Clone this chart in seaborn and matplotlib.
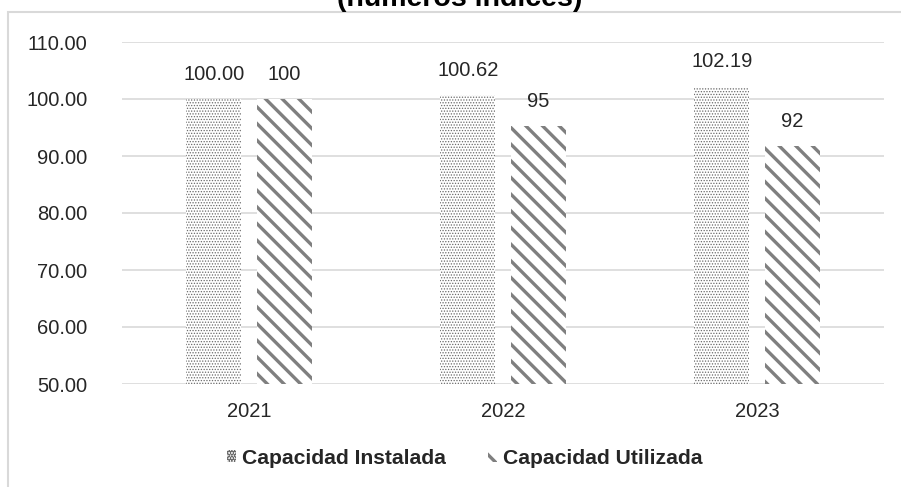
import pandas as pd
import numpy as np
import matplotlib
matplotlib.use('Agg')
import matplotlib.pyplot as plt
from matplotlib.patches import Rectangle
import seaborn as sns

# datos (números índices, base 2021 = 100)
anios = ['2021', '2022', '2023']
series = ['Capacidad Instalada', 'Capacidad Utilizada']
instalada = [100.00, 100.62, 102.19]
utilizada = [100.0, 95.3, 91.7]
y_ticks = [50, 60, 70, 80, 90, 100, 110]
titulo = '(números índices)'

df = pd.DataFrame({
    'anio': anios * 2,
    'serie': [series[0]] * 3 + [series[1]] * 3,
    'valor': instalada + utilizada,
})

sns.set_theme(style='white')
plt.rcParams['font.family'] = ['Liberation Sans', 'DejaVu Sans']
plt.rcParams['hatch.linewidth'] = 2.4

fig = plt.figure(figsize=(9.01, 4.87), dpi=100)
ax = fig.add_axes([122 / 901, 1 - 384 / 487, 762 / 901, 342 / 487])

sns.barplot(data=df, x='anio', y='valor', hue='serie', ax=ax,
            width=0.555, gap=0.22, palette=['white', 'white'],
            linewidth=0, legend=False, zorder=2)

# relleno de las barras
for bar in ax.containers[0]:
    bar.set_facecolor('white')
    bar.set_edgecolor('#6a6a6a')
    bar.set_linewidth(0)
    bar.set_hatch('......')
    if hasattr(bar, 'set_hatch_linewidth'):
        bar.set_hatch_linewidth(0.6)
for bar in ax.containers[1]:
    bar.set_facecolor('white')
    bar.set_edgecolor('#7f7f7f')
    bar.set_linewidth(0)
    bar.set_hatch('\\\\')
    if hasattr(bar, 'set_hatch_linewidth'):
        bar.set_hatch_linewidth(2.4)

fs = 14.5
ax.bar_label(ax.containers[0], fmt='{:.2f}', padding=11, fontsize=fs, color='#262626')
ax.bar_label(ax.containers[1], fmt='{:.0f}', padding=11, fontsize=fs, color='#262626')

ax.set_ylim(50, 110)
ax.set_yticks(y_ticks)
ax.set_yticklabels([f'{v:.2f}' for v in y_ticks])
ax.yaxis.grid(True, color='#d9d9d9', linewidth=1.2, zorder=0)
ax.set_axisbelow(True)
for s in ax.spines.values():
    s.set_visible(False)
ax.tick_params(axis='y', length=0, pad=25, labelsize=fs, labelcolor='#262626')
ax.tick_params(axis='x', length=0, pad=13, labelsize=fs, labelcolor='#262626')
ax.set_xlabel('')
ax.set_ylabel('')

# leyenda
handles = [ax.containers[0][0], ax.containers[1][0]]
fig.legend(handles, series, loc='center', bbox_to_anchor=(465 / 901, 1 - 458 / 487),
           ncol=2, frameon=False, handlelength=0.4, handleheight=0.55,
           handletextpad=0.3, columnspacing=2.0,
           prop={'weight': 'bold', 'size': 15.2})

# marco del gráfico y título recortado
fig.patches.append(Rectangle((7.5 / 901, -0.2), 1.2, 1.2 - 12 / 487,
                             transform=fig.transFigure, fill=False,
                             edgecolor='#d9d9d9', linewidth=1.5))
fig.text(460 / 901, 1 - 6 / 487, titulo, ha='center', va='baseline',
         fontsize=20.5, fontweight='bold', color='black')

fig.savefig('out.png', dpi=100)
